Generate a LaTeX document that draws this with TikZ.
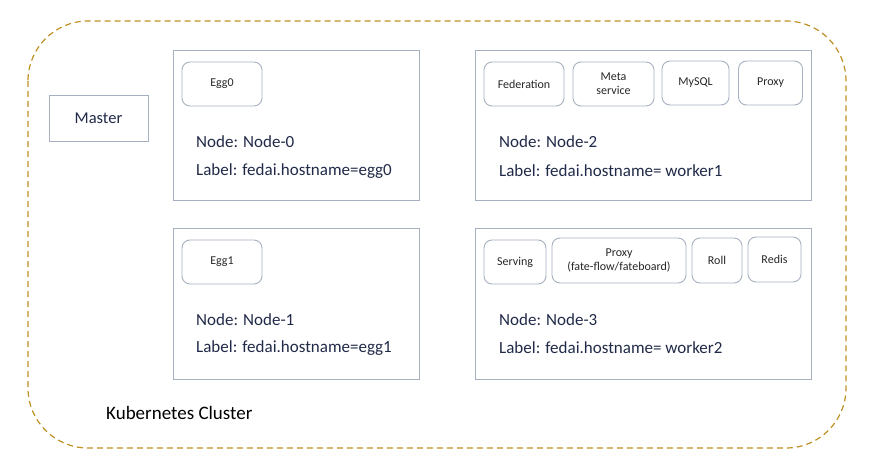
\documentclass[tikz,border=0pt]{standalone}
\usepackage{fontspec}
\setmainfont{Carlito}
\usetikzlibrary{positioning}
\definecolor{boxline}{RGB}{165,176,192}
\definecolor{txtcol}{RGB}{32,42,72}
\definecolor{clusterline}{RGB}{190,145,35}

\tikzset{
  hostbox/.style={draw=boxline, line width=0.9pt, inner sep=0pt, anchor=north west},
  svcbox/.style={draw=boxline, line width=0.9pt, rounded corners=8pt, inner sep=0pt,
                 align=center, font=\fontsize{12}{14}\selectfont, text=black!85},
  infotext/.style={anchor=west, inner sep=0pt, text=txtcol, font=\fontsize{17}{20}\selectfont}
}

\begin{document}
\begin{tikzpicture}[x=1pt, y=-1pt]
    \useasboundingbox (0,0) rectangle (880,476);

    % --- Cluster ---
    \draw[clusterline, line width=1.2pt, dash pattern=on 6pt off 4pt, rounded corners=60pt]
        (28,21) rectangle (846,448);
    \node[anchor=west, inner sep=0pt, font=\fontsize{19}{22}\selectfont] (cluster) at (106,413) {Kubernetes Cluster};

    % --- Master ---
    \node[draw=boxline, line width=0.9pt, minimum width=99pt, minimum height=46pt, inner sep=0pt,
          text=txtcol, font=\fontsize{16.5}{19}\selectfont] (master) at (98.5,118) {Master};

    % --- Node-0 ---
    \node[hostbox, minimum width=246pt, minimum height=150pt] (node0) at (173,50) {};
    \node[svcbox, minimum width=80pt, minimum height=44pt] (egg0) at (222,84) {Egg0};
    \node[infotext] (n0name) at (196,142) {Node: Node-0};
    \node[infotext] (n0label) at (196,171) {Label: fedai.hostname=egg0};

    % --- Node-1 ---
    \node[hostbox, minimum width=246pt, minimum height=151pt] (node1) at (173,228) {};
    \node[svcbox, minimum width=80pt, minimum height=44pt] (egg1) at (222,262) {Egg1};
    \node[infotext] (n1name) at (196,320) {Node: Node-1};
    \node[infotext] (n1label) at (196,348) {Label: fedai.hostname=egg1};

    % --- Node-2 ---
    \node[hostbox, minimum width=336pt, minimum height=150pt] (node2) at (475,50) {};
    \node[svcbox, minimum width=80pt, minimum height=44pt] (federation) at (524,84) {Federation};
    \node[svcbox, minimum width=81pt, minimum height=44pt] (meta) at (613.5,84) {Meta\\service};
    \node[svcbox, minimum width=67pt, minimum height=44pt] (mysql) at (695.5,83) {MySQL};
    \node[svcbox, minimum width=64pt, minimum height=44pt] (proxy2) at (770.5,83) {Proxy};
    \node[infotext] (n2name) at (499,142) {Node: Node-2};
    \node[infotext] (n2label) at (499,171) {Label: fedai.hostname= worker1};

    % --- Node-3 ---
    \node[hostbox, minimum width=336pt, minimum height=151pt] (node3) at (475,228) {};
    \node[svcbox, minimum width=62pt, minimum height=44pt] (serving) at (515,262) {Serving};
    \node[svcbox, minimum width=134pt, minimum height=45pt] (proxy3) at (619,260.5) {Proxy\\(fate-flow/fateboard)};
    \node[svcbox, minimum width=50pt, minimum height=45pt] (roll) at (717,260.5) {Roll};
    \node[svcbox, minimum width=53pt, minimum height=45pt] (redis) at (774.5,259.5) {Redis};
    \node[infotext] (n3name) at (499,320) {Node: Node-3};
    \node[infotext] (n3label) at (499,348) {Label: fedai.hostname= worker2};
\end{tikzpicture}
\end{document}
